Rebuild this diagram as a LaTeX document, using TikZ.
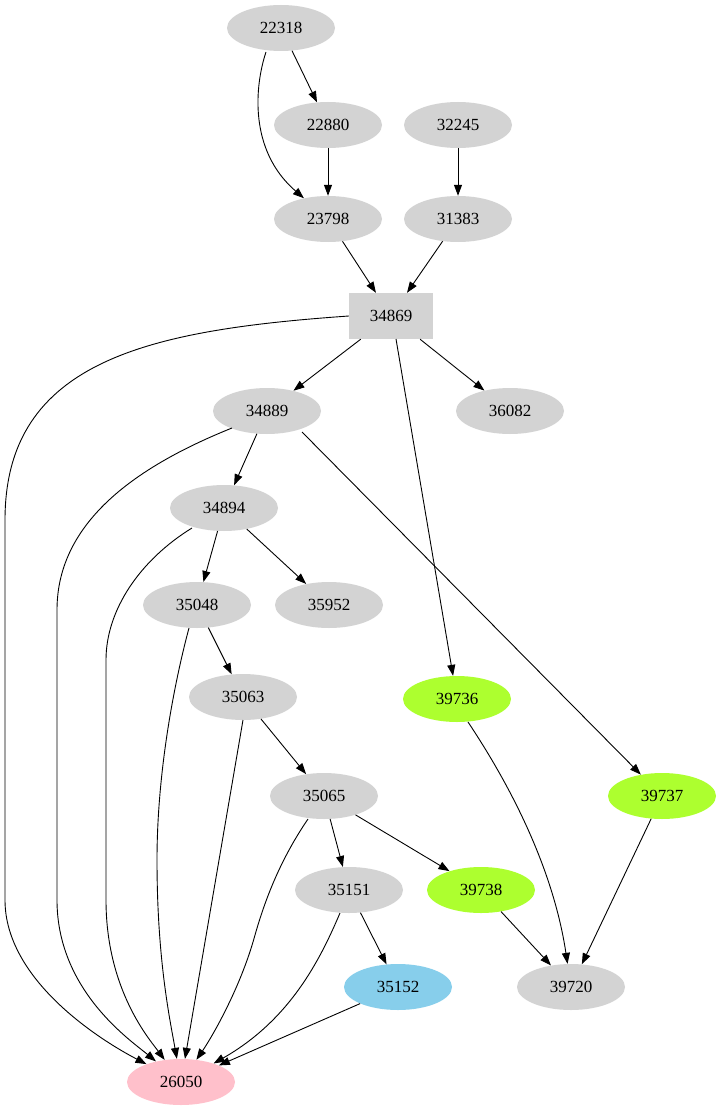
\documentclass[tikz,border=0pt]{standalone}
\usepackage{fontspec}
\setmainfont{Liberation Serif}
\usetikzlibrary{arrows.meta,shapes.geometric}
\definecolor{lg}{HTML}{D3D3D3}
\definecolor{gy}{HTML}{ADFF2F}
\definecolor{sb}{HTML}{87CEEB}
\definecolor{pk}{HTML}{FFC0CB}
\begin{document}
\begin{tikzpicture}[x=1pt,y=-1pt,
  el/.style={ellipse,fill=lg,minimum width=108pt,minimum height=46pt,inner sep=0pt,font=\fontsize{17}{17}\selectfont},
  bx/.style={rectangle,fill=lg,minimum width=84pt,minimum height=46pt,inner sep=0pt,font=\fontsize{17}{17}\selectfont},
  ar/.style={-{Triangle[length=11pt,width=8pt]},line width=0.9pt}]
\useasboundingbox (0,0) rectangle (722,1115);
\node[el] (n22318) at (281,28) {22318};
\node[el] (n22880) at (328,125) {22880};
\node[el] (n32245) at (458,125) {32245};
\node[el] (n23798) at (328,219) {23798};
\node[el] (n31383) at (458,219) {31383};
\node[bx] (n34869) at (391,316) {34869};
\node[el] (n34889) at (267,411) {34889};
\node[el] (n36082) at (510,411) {36082};
\node[el] (n34894) at (224,508) {34894};
\node[el] (n35048) at (197,605) {35048};
\node[el] (n35952) at (329,605) {35952};
\node[el] (n35063) at (243,697) {35063};
\node[el,fill=gy] (n39736) at (457,699) {39736};
\node[el] (n35065) at (324,796) {35065};
\node[el,fill=gy] (n39737) at (662,796) {39737};
\node[el] (n35151) at (349,890) {35151};
\node[el,fill=gy] (n39738) at (481,890) {39738};
\node[el,fill=sb] (n35152) at (398,987) {35152};
\node[el] (n39720) at (571,987) {39720};
\node[el,fill=pk] (n26050) at (181,1082) {26050};
\draw[ar] (n22318) -- (n22880);
\draw[ar] (266,52) .. controls (255,85) and (248,150) .. (n23798);
\draw[ar] (n22880) -- (n23798);
\draw[ar] (n32245) -- (n31383);
\draw[ar] (n23798) -- (n34869);
\draw[ar] (n31383) -- (n34869);
\coordinate (c1) at (5,520);
\coordinate (c2) at (5,900);
\draw[ar] (n34869.west) .. controls (150,330) and (5,360) .. (c1) -- (c2) .. controls (5,980) and (100,1040) .. (n26050);
\draw[ar] (n34869) -- (n34889);
\draw[ar] (n34869) -- (n36082);
\draw[ar] (396,339) -- (n39736);
\coordinate (c3) at (57,610);
\coordinate (c4) at (57,900);
\draw[ar] (232,428) .. controls (140,465) and (57,520) .. (c3) -- (c4) .. controls (57,990) and (130,1040) .. (n26050);
\draw[ar] (n34889) -- (n34894);
\draw[ar] (302,432) -- (n39737);
\coordinate (c5) at (106,660);
\coordinate (c6) at (106,900);
\draw[ar] (192,528) .. controls (140,560) and (106,610) .. (c5) -- (c6) .. controls (106,990) and (150,1040) .. (n26050);
\draw[ar] (n34894) -- (n35048);
\draw[ar] (n34894) -- (n35952);
\coordinate (c7) at (157,860);
\draw[ar] (189,628) .. controls (175,680) and (157,770) .. (c7) .. controls (157,960) and (170,1020) .. (n26050);
\draw[ar] (n35048) -- (n35063);
\draw[ar] (243,720) -- (n26050);
\draw[ar] (n35063) -- (n35065);
\draw[ar] (308,819) .. controls (280,860) and (265,900) .. (255,935) .. controls (240,990) and (210,1040) .. (n26050);
\draw[ar] (n35065) -- (n35151);
\draw[ar] (n35065) -- (n39738);
\draw[ar] (340,913) .. controls (320,960) and (290,1020) .. (n26050);
\draw[ar] (n35151) -- (n35152);
\draw[ar] (n35152) -- (n26050);
\draw[ar] (468,722) .. controls (520,800) and (555,880) .. (n39720);
\draw[ar] (n39737) -- (n39720);
\draw[ar] (n39738) -- (n39720);
\end{tikzpicture}
\end{document}
